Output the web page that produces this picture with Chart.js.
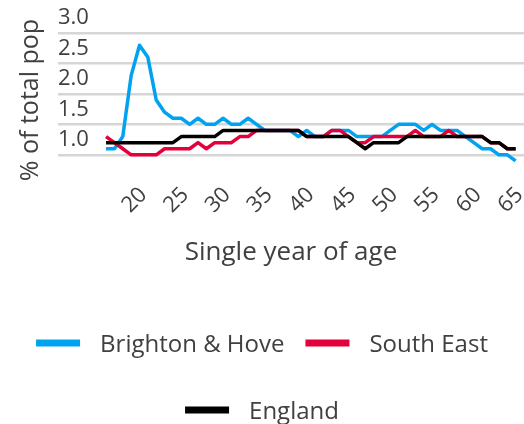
<!DOCTYPE html>
<html>
<head>
<meta charset="utf-8">
<script src="https://cdn.jsdelivr.net/npm/chart.js@4"></script>
<style>
  html, body { margin: 0; padding: 0; background: #ffffff; overflow: hidden; }
  #wrap { width: 524px; height: 424px; }
</style>
</head>
<body>
<div id="wrap"><canvas id="c" width="524" height="424"></canvas></div>
<script>
// ---- data ----
const ages = [16,17,18,19,20,21,22,23,24,25,26,27,28,29,30,31,32,33,34,35,36,37,38,39,40,
              41,42,43,44,45,46,47,48,49,50,51,52,53,54,55,56,57,58,59,60,61,62,63,64,65];
const brightonHove = [1.1,1.1,1.3,2.3,2.8,2.6,1.9,1.7,1.6,1.6,
                      1.5,1.6,1.5,1.5,1.6,1.5,1.5,1.6,1.5,1.4,
                      1.4,1.4,1.4,1.3,1.4,1.3,1.3,1.4,1.4,1.4,
                      1.3,1.3,1.3,1.3,1.4,1.5,1.5,1.5,1.4,1.5,
                      1.4,1.4,1.4,1.3,1.2,1.1,1.1,1.0,1.0,0.9];
const southEast = [1.3,1.2,1.1,1.0,1.0,1.0,1.0,1.1,1.1,1.1,
                   1.1,1.2,1.1,1.2,1.2,1.2,1.3,1.3,1.4,1.4,
                   1.4,1.4,1.4,1.4,1.3,1.3,1.3,1.4,1.4,1.3,
                   1.2,1.2,1.3,1.3,1.3,1.3,1.3,1.4,1.3,1.3,
                   1.3,1.4,1.3,1.3,1.3,1.3,1.2,1.2,1.1,1.1];
const england = [1.2,1.2,1.2,1.2,1.2,1.2,1.2,1.2,1.2,1.3,
                 1.3,1.3,1.3,1.3,1.4,1.4,1.4,1.4,1.4,1.4,
                 1.4,1.4,1.4,1.4,1.3,1.3,1.3,1.3,1.3,1.3,
                 1.2,1.1,1.2,1.2,1.2,1.2,1.3,1.3,1.3,1.3,
                 1.3,1.3,1.3,1.3,1.3,1.3,1.2,1.2,1.1,1.1];
const seriesNames = ['Brighton & Hove', 'South East', 'England'];
const xTickLabels = [20,25,30,35,40,45,50,55,60,65];
const yTickLabels = [1.0,1.5,2.0,2.5,3.0];
const xTitle = 'Single year of age';
const yTitle = '% of total pop';

// ---- style ----
const FONT = '"Open Sans", "Noto Sans", sans-serif';
const TEXT = '#404040';
const colors = ['#00A3EF', '#E3003B', '#000000'];

const pts = vals => ages.map((a, i) => ({ x: a, y: vals[i] }));

const legendPlugin = {
  id: 'customLegend',
  afterDraw(chart) {
    const ctx = chart.ctx;
    const ds = chart.data.datasets;
    const fontSize = 24, sw = 44, sh = 7, gap = 20, itemGap = 21;
    const firstRow = 343, rowStep = 67;
    ctx.save();
    ctx.font = fontSize + 'px ' + FONT;
    const items = ds.map(d => ({ label: d.label, color: d.borderColor,
      w: sw + gap + ctx.measureText(d.label).width }));
    const maxW = chart.width - 20;
    const rows = [[]];
    let cur = 0;
    items.forEach(it => {
      const add = (rows[rows.length - 1].length ? itemGap : 0) + it.w;
      if (cur + add > maxW && rows[rows.length - 1].length) { rows.push([it]); cur = it.w; }
      else { rows[rows.length - 1].push(it); cur += add; }
    });
    rows.forEach((row, r) => {
      const total = row.reduce((s, it) => s + it.w, 0) + itemGap * (row.length - 1);
      let x = (chart.width - total) / 2;
      const yc = firstRow + r * rowStep;
      row.forEach(it => {
        ctx.fillStyle = it.color;
        ctx.fillRect(x, yc - sh / 2, sw, sh);
        ctx.fillStyle = TEXT;
        ctx.textBaseline = 'alphabetic';
        ctx.textAlign = 'left';
        ctx.fillText(it.label, x + sw + gap, yc + 9);
        x += it.w + itemGap;
      });
    });
    ctx.restore();
  }
};

new Chart(document.getElementById('c'), {
  type: 'line',
  data: {
    datasets: [
      { label: seriesNames[0], data: pts(brightonHove), borderColor: colors[0], backgroundColor: colors[0], order: 3 },
      { label: seriesNames[1], data: pts(southEast), borderColor: colors[1], backgroundColor: colors[1], order: 2 },
      { label: seriesNames[2], data: pts(england), borderColor: colors[2], backgroundColor: colors[2], order: 1 }
    ]
  },
  options: {
    responsive: false,
    animation: false,
    devicePixelRatio: 1,
    layout: { padding: { top: 33, right: 0, left: 0, bottom: 152 } },
    elements: {
      line: { borderWidth: 3.5, tension: 0, borderJoinStyle: 'round', fill: false },
      point: { radius: 0, hoverRadius: 0 }
    },
    plugins: { legend: { display: false }, tooltip: { enabled: false } },
    scales: {
      x: {
        type: 'linear',
        min: 10.25,
        max: 66,
        afterBuildTicks: s => { s.ticks = xTickLabels.map(v => ({ value: v })); },
        afterFit: s => { s.height = 105; s.paddingRight = 0; s.paddingLeft = 0; },
        grid: { display: false, drawTicks: false },
        border: { display: false },
        ticks: {
          autoSkip: false, maxRotation: 45, minRotation: 45, padding: 15, labelOffset: 4,
          color: TEXT, font: { family: FONT, size: 22 },
          callback: v => String(v)
        },
        title: { display: true, text: xTitle, color: TEXT, font: { family: FONT, size: 26 }, padding: { top: 0, bottom: 4 } }
      },
      y: {
        type: 'linear',
        min: 0.8,
        max: 3.0,
        afterBuildTicks: s => { s.ticks = yTickLabels.map(v => ({ value: v })); },
        afterFit: s => { s.width = 58; s.paddingTop = 0; s.paddingBottom = 0; },
        grid: { color: '#d6d6d6', lineWidth: 2.5, drawTicks: false },
        border: { display: false },
        ticks: {
          mirror: true, padding: 0, labelOffset: -15,
          color: TEXT, font: { family: FONT, size: 22 },
          callback: v => Number(v).toFixed(1)
        },
        title: { display: true, text: yTitle, color: TEXT, font: { family: FONT, size: 25 }, padding: { top: 16, bottom: 0 } }
      }
    }
  },
  plugins: [legendPlugin]
});
</script>
</body>
</html>
